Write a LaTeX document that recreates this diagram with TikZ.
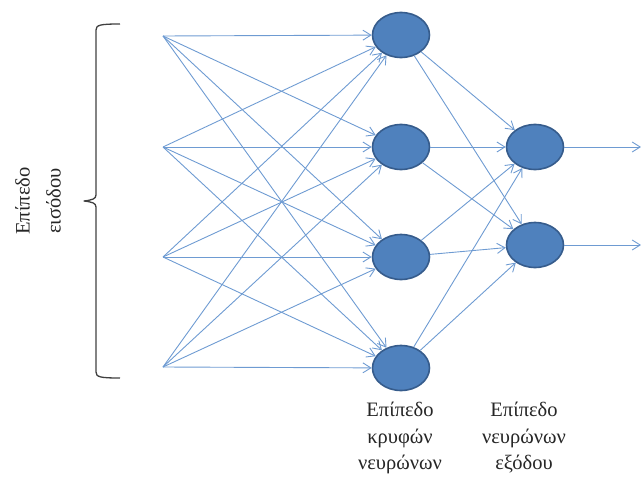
\documentclass[tikz,border=0pt]{standalone}
\usepackage{fontspec}
\setmainfont{Liberation Serif}
\usetikzlibrary{shapes.geometric,arrows.meta}
\definecolor{neuronfill}{RGB}{79,129,189}
\definecolor{neuronline}{RGB}{54,92,140}
\definecolor{edgeblue}{RGB}{110,155,210}
\definecolor{bracegray}{RGB}{64,64,64}
\tikzset{
  neuron/.style={ellipse, fill=neuronfill, draw=neuronline, line width=1.6pt,
    minimum width=57pt, minimum height=45pt, inner sep=0pt},
  edge/.style={draw=edgeblue, line width=0.9pt,
    -{Straight Barb[length=8pt,width=10pt,line width=0.9pt]}},
  caption/.style={align=center, font=\fontsize{20.5}{26.5}\selectfont, text=black!85}
}
\begin{document}
\begin{tikzpicture}[x=1pt,y=-1pt]
\useasboundingbox (0,0) rectangle (641,479);
% input layer points
\coordinate (i1) at (163,36);
\coordinate (i2) at (163,147);
\coordinate (i3) at (163,257);
\coordinate (i4) at (163,367);
% hidden layer
\node[neuron] (h1) at (401,35) {};
\node[neuron] (h2) at (401,147) {};
\node[neuron] (h3) at (401,257) {};
\node[neuron] (h4) at (401,368) {};
% output layer
\node[neuron] (o1) at (535,147) {};
\node[neuron] (o2) at (535,245) {};
% outgoing ends
\coordinate (e1) at (641,147);
\coordinate (e2) at (641,245);
% connections input -> hidden
\foreach \i in {1,...,4}
  \foreach \h in {1,...,4}
    \path[edge] (i\i) -- (h\h);
% connections hidden -> output
\foreach \h in {1,...,4}
  \foreach \o in {1,2}
    \path[edge] (h\h) -- (o\o);
% outputs
\path[edge] (o1) -- (e1);
\path[edge] (o2) -- (e2);
% brace for the input layer
\draw[bracegray, line width=1.3pt, line join=round]
  (120,24) .. controls (100,24) and (96,25) .. (96,30)
  -- (96,195) .. controls (96,199) and (92,200) .. (84,201)
  .. controls (92,202) and (96,203) .. (96,207)
  -- (96,372) .. controls (96,377) and (100,378) .. (120,378);
% labels
\node[caption, rotate=90, font=\fontsize{20.5}{31}\selectfont] (inlabel) at (38,201) {Επίπεδο\\εισόδου};
\node[caption] (hlabel) at (400,438) {Επίπεδο\\κρυφών\\νευρώνων};
\node[caption] (olabel) at (524,438) {Επίπεδο\\νευρώνων\\εξόδου};
\end{tikzpicture}
\end{document}
